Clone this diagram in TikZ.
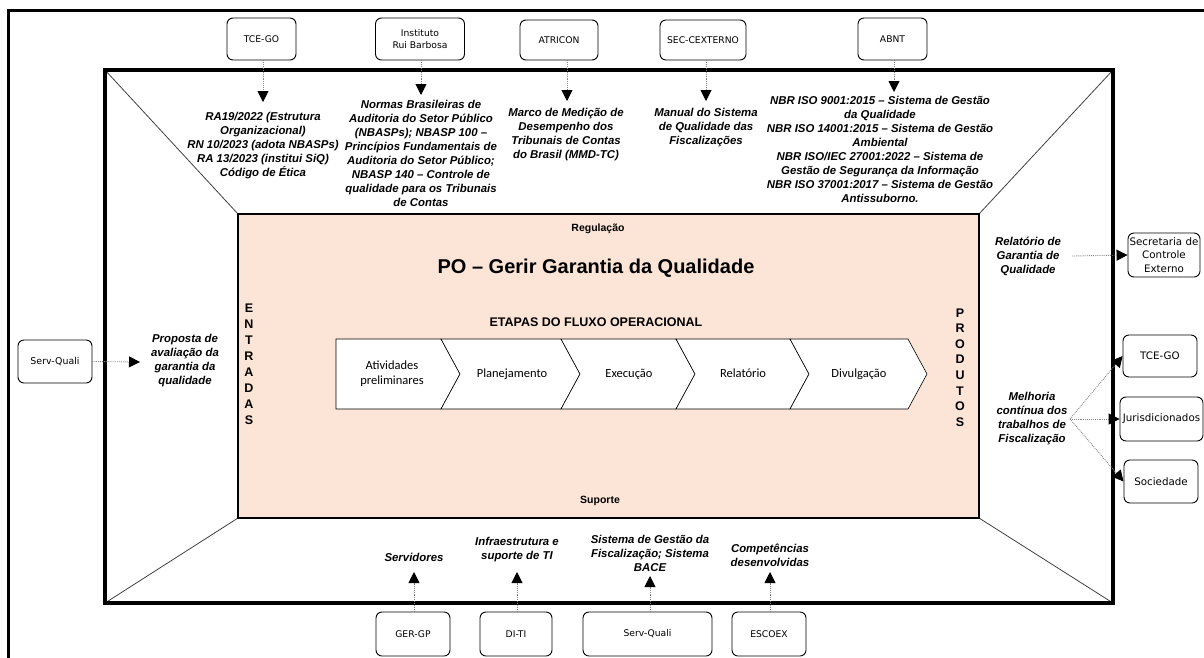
\documentclass[tikz,border=0pt]{standalone}
\usepackage{fontspec}
\setmainfont{Liberation Sans}
\newfontfamily\boxfont{DejaVu Sans}
\newfontfamily\chevfont{Carlito}
\usetikzlibrary{arrows.meta}
\definecolor{salmon}{RGB}{252,228,214}
\definecolor{dotgray}{RGB}{135,135,135}
\begin{document}
\begin{tikzpicture}[x=1pt,y=-1pt,
  srcbox/.style={draw, rounded corners=6pt, line width=0.9pt, font=\boxfont\fontsize{9.2}{12}\selectfont, align=center, inner sep=0pt},
  rbox/.style={srcbox, font=\boxfont\fontsize{10.3}{13.5}\selectfont},
  lbl/.style={font=\bfseries\itshape\fontsize{11.4}{14}\selectfont, align=center, inner sep=0pt},
  darrow/.style={dotgray, densely dotted, line width=0.9pt, -{Triangle[length=11pt,width=11pt,black]}},
  chev/.style={draw, line width=0.6pt, fill=white},
  chevtxt/.style={font=\chevfont\fontsize{12.5}{15}\selectfont, align=center, inner sep=0pt},
  vlet/.style={font=\bfseries\fontsize{12.5}{16}\selectfont, align=center, inner sep=0pt},
  ttl/.style={font=\bfseries\fontsize{10.5}{13}\selectfont, inner sep=0pt},
]
\useasboundingbox (0,0) rectangle (1204,657);
% outer frame (partly visible)
\draw[line width=3pt] (8,660) -- (8,10) -- (1210,10);
% diagonals
\draw[line width=0.8pt, black!75] (105,70) -- (238,214);
\draw[line width=0.8pt, black!75] (1113,70) -- (979,214);
\draw[line width=0.8pt, black!75] (105,603) -- (238,518);
\draw[line width=0.8pt, black!75] (1113,603) -- (979,518);
% main thick rectangle
\draw[line width=4pt] (105,70) rectangle (1113,603);
% salmon process area
\draw[fill=salmon, line width=1.4pt] (238,214) rectangle (979,518);

\node[ttl] (reg) at (598,229) {Regulação};
\node[ttl] (sup) at (600,501) {Suporte};
\node[font=\bfseries\fontsize{20}{24}\selectfont, inner sep=0pt] (title) at (596,268) {PO – Gerir Garantia da Qualidade};
\node[font=\bfseries\fontsize{12.5}{15}\selectfont, inner sep=0pt] (etapas) at (596,322) {ETAPAS DO FLUXO OPERACIONAL};
\node[vlet] (entradas) at (249,364) {E\\N\\T\\R\\A\\D\\A\\S};
\node[font=\bfseries\fontsize{12.5}{15.6}\selectfont, align=center, inner sep=0pt] (produtos) at (960,367.5) {P\\R\\O\\D\\U\\T\\O\\S};

% chevrons
\draw[chev] (336,339) -- (441,339) -- (460,374) -- (441,409) -- (336,409) -- cycle;
\draw[chev] (441,339) -- (561,339) -- (580,374) -- (561,409) -- (441,409) -- (460,374) -- cycle;
\draw[chev] (561,339) -- (676,339) -- (695,374) -- (676,409) -- (561,409) -- (580,374) -- cycle;
\draw[chev] (676,339) -- (790,339) -- (809,374) -- (790,409) -- (676,409) -- (695,374) -- cycle;
\draw[chev] (790,339) -- (908,339) -- (927,374) -- (908,409) -- (790,409) -- (809,374) -- cycle;
\node[chevtxt] (c1) at (392,374) {Atividades\\preliminares};
\node[chevtxt] (c2) at (512,374) {Planejamento};
\node[chevtxt] (c3) at (629,374) {Execução};
\node[chevtxt] (c4) at (743,373) {Relatório};
\node[chevtxt] (c5) at (859,374) {Divulgação};

% top providers
\node[srcbox, minimum width=69pt, minimum height=42pt] (tce) at (261.5,39) {TCE-GO};
\node[srcbox, minimum width=89pt, minimum height=42pt] (irb) at (420,39) {Instituto\\Rui Barbosa};
\node[srcbox, minimum width=78pt, minimum height=40pt] (atr) at (559,40) {ATRICON};
\node[srcbox, minimum width=86pt, minimum height=40pt] (sec) at (703,40) {SEC-CEXTERNO};
\node[srcbox, minimum width=69pt, minimum height=42pt] (abnt) at (892.5,39) {ABNT};

\node[lbl] (tcetxt) at (263,146) {RA19/2022 (Estrutura\\Organizacional)\\RN 10/2023 (adota NBASPs)\\RA 13/2023 (institui SiQ)\\Código de Ética};
\node[lbl] (irbtxt) at (421,153) {Normas Brasileiras de\\Auditoria do Setor Público\\(NBASPs); NBASP 100 –\\Princípios Fundamentais de\\Auditoria do Setor Público;\\NBASP 140 – Controle de\\qualidade para os Tribunais\\de Contas};
\node[lbl] (atrtxt) at (566,135) {Marco de Medição de\\Desempenho dos\\Tribunais de Contas\\do Brasil (MMD-TC)};
\node[lbl] (sectxt) at (706,128) {Manual do Sistema\\de Qualidade das\\Fiscalizações};
\node[lbl] (abnttxt) at (880,149) {NBR ISO 9001:2015 – Sistema de Gestão\\da Qualidade\\NBR ISO 14001:2015 – Sistema de Gestão\\Ambiental\\NBR ISO/IEC 27001:2022 – Sistema de\\Gestão de Segurança da Informação\\NBR ISO 37001:2017 – Sistema de Gestão\\Antissuborno.};

\coordinate (t1) at (263,102);
\coordinate (t2) at (421,95);
\coordinate (t3) at (567,101);
\coordinate (t4) at (706,101);
\coordinate (t5) at (894,92);
\draw[darrow] (tce.south -| t1) -- (t1);
\draw[darrow] (irb.south -| t2) -- (t2);
\draw[darrow] (atr.south -| t3) -- (t3);
\draw[darrow] (sec.south -| t4) -- (t4);
\draw[darrow] (abnt.south -| t5) -- (t5);

% left input
\node[srcbox, font=\boxfont\fontsize{9.4}{12}\selectfont, minimum width=74pt, minimum height=43pt] (sq) at (55,361.5) {Serv-Quali};
\node[lbl] (proptxt) at (185,361) {Proposta de\\avaliação da\\garantia da\\qualidade};
\coordinate (pin) at (140,362);
\draw[darrow] (sq.east) -- (pin);

% right outputs
\node[rbox, minimum width=72pt, minimum height=44pt] (secx) at (1164,255) {Secretaria de\\Controle\\Externo};
\node[rbox, minimum width=74pt, minimum height=42pt] (tce2) at (1160,356) {TCE-GO};
\node[rbox, minimum width=83pt, minimum height=44pt] (jur) at (1161.5,419) {Jurisdicionados};
\node[rbox, minimum width=74pt, minimum height=43pt] (soc) at (1161,481.5) {Sociedade};
\node[lbl] (reltxt) at (1028,256) {Relatório de\\Garantia de\\Qualidade};
\node[lbl] (meltxt) at (1032,419) {Melhoria\\contínua dos\\trabalhos de\\Fiscalização};
\coordinate (relout) at (1072,256);
\coordinate (melout) at (1070,419);
\draw[darrow] (relout) -- (secx.west);
\draw[darrow] (melout) -- (tce2.west);
\draw[darrow] (melout) -- (jur.west);
\draw[darrow] (melout) -- (soc.west);

% bottom support
\node[srcbox, minimum width=74pt, minimum height=44pt] (ger) at (413,634) {GER-GP};
\node[srcbox, minimum width=72pt, minimum height=44pt] (diti) at (516,634) {DI-TI};
\node[srcbox, minimum width=129pt, minimum height=44pt] (sq2) at (647.5,634) {Serv-Quali};
\node[srcbox, minimum width=74pt, minimum height=44pt] (esc) at (769,634) {ESCOEX};
\node[lbl] (servtxt) at (414,557) {Servidores};
\node[lbl] (infratxt) at (517,550) {Infraestrutura e\\suporte de TI};
\node[lbl] (sistxt) at (650,553) {Sistema de Gestão da\\Fiscalização; Sistema\\BACE};
\node[lbl] (comptxt) at (770,555) {Competências\\desenvolvidas};
\coordinate (b1) at (414,572);
\coordinate (b2) at (517,572);
\coordinate (b3) at (650,576);
\coordinate (b4) at (770,572);
\draw[darrow] (ger.north -| b1) -- (b1);
\draw[darrow] (diti.north -| b2) -- (b2);
\draw[darrow] (sq2.north -| b3) -- (b3);
\draw[darrow] (esc.north -| b4) -- (b4);
\end{tikzpicture}
\end{document}
